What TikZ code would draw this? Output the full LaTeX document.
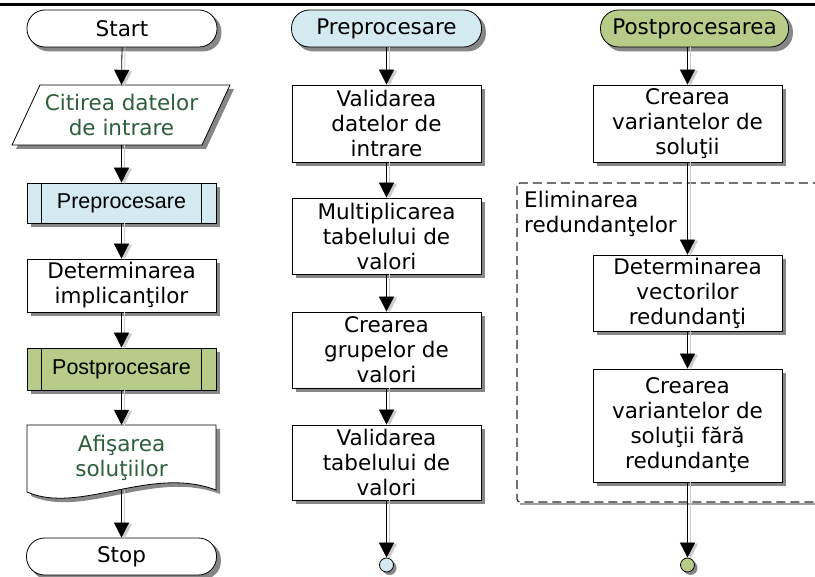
\documentclass[tikz,border=0pt]{standalone}
\usepackage{fontspec}
\setmainfont{DejaVu Sans}
\newfontfamily\arialfont{Liberation Sans}
\usetikzlibrary{arrows.meta,backgrounds}
\definecolor{procblue}{RGB}{210,234,240}
\definecolor{procgreen}{RGB}{182,204,136}
\definecolor{iotext}{RGB}{45,95,60}
\definecolor{shadowgray}{RGB}{135,135,135}
\definecolor{dashgray}{RGB}{40,40,40}

% connector with its light shadow line: \flow{from}{to}
\newcommand\flow[2]{%
  \draw[connshadow] ([xshift=3pt]#1) -- ([xshift=3pt]#2);
  \draw[conn] (#1) -- (#2);}
% shadow behind a named node: \nodeshadow[radius]{name}
\newcommand\nodeshadow[2][0pt]{%
  \fill[shadowgray, rounded corners=#1]
    ([shift={(4pt,-4pt)}]#2.south west) rectangle ([shift={(4pt,-4pt)}]#2.north east);}

\begin{document}
\begin{tikzpicture}[x=1pt,y=-1pt,
  font=\fontsize{21.5}{25}\selectfont,
  box/.style={draw=black, line width=0.8pt, fill=white, align=center,
              inner sep=0pt, minimum width=189pt},
  term/.style={box, rounded corners=18pt, minimum height=37pt, minimum width=190pt},
  ghost/.style={inner sep=0pt, align=center, minimum width=189pt},
  shape line/.style={draw=black, line width=0.8pt, fill=white},
  conn/.style={line width=0.8pt, -{Triangle[width=15pt,length=15pt]}},
  connshadow/.style={line width=0.8pt, draw=gray!40, -{Triangle[width=15pt,length=15pt]}, shorten >=-1pt},
  link/.style={line width=0.8pt},
  endpt/.style={circle, draw=black, line width=0.8pt, minimum size=14pt, inner sep=0pt},
  groupframe/.style={draw=dashgray, line width=1.2pt, dash pattern=on 9pt off 5pt, rounded corners=3pt}
]
\useasboundingbox (0,0) rectangle (815,577);
\clip (0,0) rectangle (815,577);

% rule above the three charts
\draw[line width=3pt] (0,5) -- (815,5);

% ---------------- main algorithm ----------------
\node[term] (start) at (122,28.5) {Start};

\draw[shape line] (40,85) -- (230,85) -- (202,145) -- (12,145) -- cycle;
\node[ghost, minimum height=60pt, text=iotext] (read) at (121.5,115) {Citirea datelor\\de intrare};

\node[box, fill=procblue, minimum height=40pt] (pre) at (121.5,203) {\arialfont Preprocesare};
\draw[link] ([xshift=15pt]pre.north west) -- ([xshift=15pt]pre.south west);
\draw[link] ([xshift=-15pt]pre.north east) -- ([xshift=-15pt]pre.south east);

\node[box, minimum height=53pt] (det) at (121.5,285.5) {Determinarea\\implicanţilor};

\node[box, fill=procgreen, minimum height=42pt] (post) at (121.5,369) {\arialfont Postprocesare};
\draw[link] ([xshift=15pt]post.north west) -- ([xshift=15pt]post.south west);
\draw[link] ([xshift=-15pt]post.north east) -- ([xshift=-15pt]post.south east);

\draw[shape line] (27,425) -- (216,425) -- (216,490)
  .. controls (150,465) and (80,515) .. (27,492) -- cycle;
\node[ghost, minimum height=65pt, text=iotext] (disp) at (121.5,457.5) {Afişarea\\soluţiilor};

\node[term] (stop) at (121.5,556.5) {Stop};

\flow{start.south}{read.north}
\flow{read.south}{pre.north}
\flow{pre.south}{det.north}
\flow{det.south}{post.north}
\flow{post.south}{disp.north}
\flow{disp.south}{stop.north}

% ---------------- preprocessing ----------------
\node[term, fill=procblue] (ppT) at (386.5,28.5) {Preprocesare};
\node[box, minimum height=77pt] (v1) at (386.5,123.5) {Validarea\\datelor de\\intrare};
\node[box, minimum height=76pt] (mt) at (386.5,236) {Multiplicarea\\tabelului de\\valori};
\node[box, minimum height=76pt] (cg) at (386.5,350) {Crearea\\grupelor de\\valori};
\node[box, minimum height=75pt] (v2) at (386.5,462.5) {Validarea\\tabelului de\\valori};
\node[endpt, fill=procblue] (e1) at (386.5,565) {};

\flow{ppT.south}{v1.north}
\flow{v1.south}{mt.north}
\flow{mt.south}{cg.north}
\flow{cg.south}{v2.north}
\flow{v2.south}{e1.north}

% ---------------- postprocessing ----------------
\draw[groupframe] (517,183) rectangle (830,502);
\node[anchor=north west, align=left, inner sep=0pt] (elim) at (524,191) {Eliminarea\\redundanţelor};

\node[term, fill=procgreen, minimum width=188pt] (poT) at (694.5,28.5) {Postprocesarea};
\node[box, minimum height=77pt] (cv) at (687.5,123.5) {Crearea\\variantelor de\\soluţii};
\node[box, minimum height=76pt] (dv) at (687.5,293) {Determinarea\\vectorilor\\redundanţi};
\node[box, minimum height=113pt] (cvf) at (687.5,425.5) {Crearea\\variantelor de\\soluţii fără\\redundanţe};
\node[endpt, fill=procgreen] (e2) at (687.5,565) {};

\coordinate (poTout) at (poT.south -| cv.north);
\flow{poTout}{cv.north}
\flow{cv.south}{dv.north}
\flow{dv.south}{cvf.north}
\flow{cvf.south}{e2.north}

% ---------------- drop shadows ----------------
\begin{scope}[on background layer]
  \foreach \n in {pre,det,post,v1,mt,cg,v2,cv,dv,cvf} {\nodeshadow{\n}}
  \foreach \n in {start,stop,ppT,poT} {\nodeshadow[18pt]{\n}}
  \foreach \n in {e1,e2} {\fill[shadowgray] ([shift={(3pt,-3pt)}]\n.center) circle (7pt);}
  \begin{scope}[shift={(4,4)}]
    \fill[shadowgray] (40,85) -- (230,85) -- (202,145) -- (12,145) -- cycle;
    \fill[shadowgray] (27,425) -- (216,425) -- (216,490)
      .. controls (150,465) and (80,515) .. (27,492) -- cycle;
  \end{scope}
  \draw[shadowgray!80, line width=2pt] (520,504.5) -- (815,504.5);
\end{scope}
\end{tikzpicture}
\end{document}
